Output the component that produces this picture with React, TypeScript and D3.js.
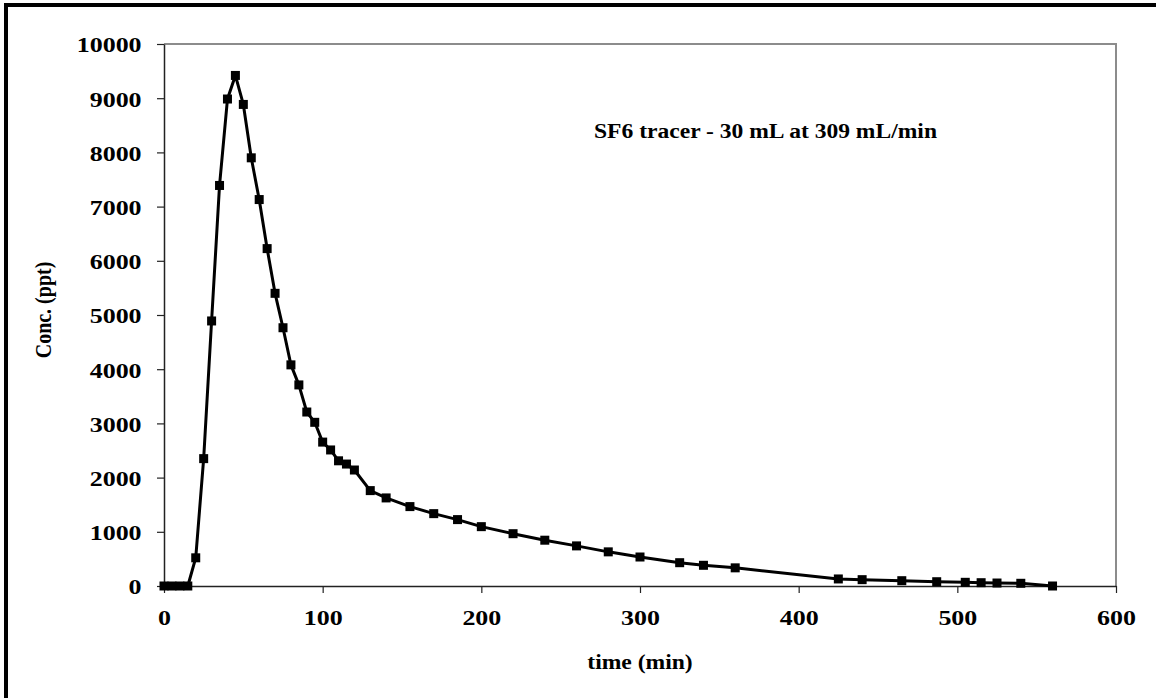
import React, { useEffect, useRef } from "react";
import * as d3 from "d3";

// SF6 tracer breakthrough curve
const times = [
  0, 5, 10, 15, 20, 25, 30, 35, 40, 45, 50, 55, 60, 65, 70, 75, 80, 85, 90, 95,
  100, 105, 110, 115, 120, 130, 140, 155, 170, 185, 200, 220, 240, 260, 280, 300,
  325, 340, 360, 425, 440, 465, 487, 505, 515, 525, 540, 560,
];
const conc = [
  0, 0, 0, 0, 520, 2350, 4890, 7390, 8985, 9420, 8885, 7900, 7130, 6225, 5400, 4765,
  4080, 3710, 3210, 3020, 2655, 2510, 2310, 2250, 2140, 1760, 1625, 1465, 1335, 1225,
  1095, 965, 845, 740, 630, 535, 430, 382, 335, 130, 117, 98, 79, 68, 61, 55, 50, 0,
];
const xTicks = [0, 100, 200, 300, 400, 500, 600];
const yTicks = [0, 1000, 2000, 3000, 4000, 5000, 6000, 7000, 8000, 9000, 10000];
const annotation = "SF6 tracer - 30 mL at 309 mL/min";

const W = 1156;
const H = 698;
const plot = { left: 164, top: 44, right: 1116, bottom: 586 };
const font = "'Liberation Serif', 'Times New Roman', serif";
const stretch = 1.18;

export default function App() {
  const ref = useRef<SVGSVGElement>(null);

  useEffect(() => {
    const svg = d3.select(ref.current);
    svg.selectAll("*").remove();

    const x = d3.scaleLinear().domain([0, 600]).range([plot.left, plot.right]);
    const y = d3.scaleLinear().domain([0, 10000]).range([plot.bottom, plot.top]);

    // outer frame (only top and left edges show)
    svg.append("rect")
      .attr("x", 6).attr("y", 5)
      .attr("width", W + 20).attr("height", H + 20)
      .attr("fill", "white")
      .attr("stroke", "#000").attr("stroke-width", 4);

    // top and right plot border
    svg.append("path")
      .attr("d", `M${plot.left},${plot.top}H${plot.right}V${plot.bottom}`)
      .attr("fill", "none").attr("stroke", "#8c8c8c").attr("stroke-width", 2);

    const yAxis = svg.append("g")
      .attr("transform", `translate(${plot.left},0)`)
      .call(d3.axisLeft(y).tickValues(yTicks).tickFormat(d3.format("d")).tickSize(7).tickSizeOuter(0).tickPadding(12));
    const xAxis = svg.append("g")
      .attr("transform", `translate(0,${plot.bottom})`)
      .call(d3.axisBottom(x).tickValues(xTicks).tickFormat(d3.format("d")).tickSize(7).tickSizeOuter(0).tickPadding(16));

    [yAxis, xAxis].forEach((g) => {
      g.select(".domain").attr("stroke", "#222").attr("stroke-width", 1.5);
      g.selectAll(".tick line").attr("stroke", "#222").attr("stroke-width", 1.2);
      g.selectAll(".tick text")
        .attr("font-family", font)
        .attr("font-weight", "bold")
        .attr("font-size", 22)
        .attr("fill", "#000")
        .attr("transform", `scale(${stretch},1)`);
      g.attr("font-family", null).attr("font-size", null);
    });
    yAxis.selectAll(".tick text").attr("dy", "0.36em");

    const pts = times.map((t, i) => [t, conc[i]] as [number, number]);
    const line = d3.line<[number, number]>().x((d) => x(d[0])).y((d) => y(d[1]));

    svg.append("path")
      .datum(pts)
      .attr("d", line)
      .attr("fill", "none")
      .attr("stroke", "#000")
      .attr("stroke-width", 3)
      .attr("stroke-linejoin", "round");

    const sq = 9;
    svg.selectAll(".mark")
      .data(pts)
      .enter()
      .append("rect")
      .attr("class", "mark")
      .attr("x", (d) => x(d[0]) - sq / 2)
      .attr("y", (d) => y(d[1]) - sq / 2)
      .attr("width", sq)
      .attr("height", sq)
      .attr("fill", "#000");

    // annotation
    svg.append("text")
      .attr("x", 594)
      .attr("y", 138)
      .attr("font-family", font)
      .attr("font-weight", "bold")
      .attr("font-size", 20)
      .attr("textLength", 343)
      .attr("lengthAdjust", "spacingAndGlyphs")
      .text(annotation);

    // axis titles
    svg.append("text")
      .attr("transform", `translate(${(plot.left + plot.right) / 2},669) scale(${stretch},1)`)
      .attr("text-anchor", "middle")
      .attr("font-family", font)
      .attr("font-weight", "bold")
      .attr("font-size", 20)
      .text("time (min)");

    svg.append("text")
      .attr("transform", `translate(51,310) scale(${stretch},1) rotate(-90)`)
      .attr("text-anchor", "middle")
      .attr("font-family", font)
      .attr("font-weight", "bold")
      .attr("font-size", 20)
      .text("Conc. (ppt)");
  }, []);

  return (
    <svg
      ref={ref}
      width={W}
      height={H}
      style={{ position: "absolute", left: 0, top: 0, background: "white" }}
    />
  );
}
